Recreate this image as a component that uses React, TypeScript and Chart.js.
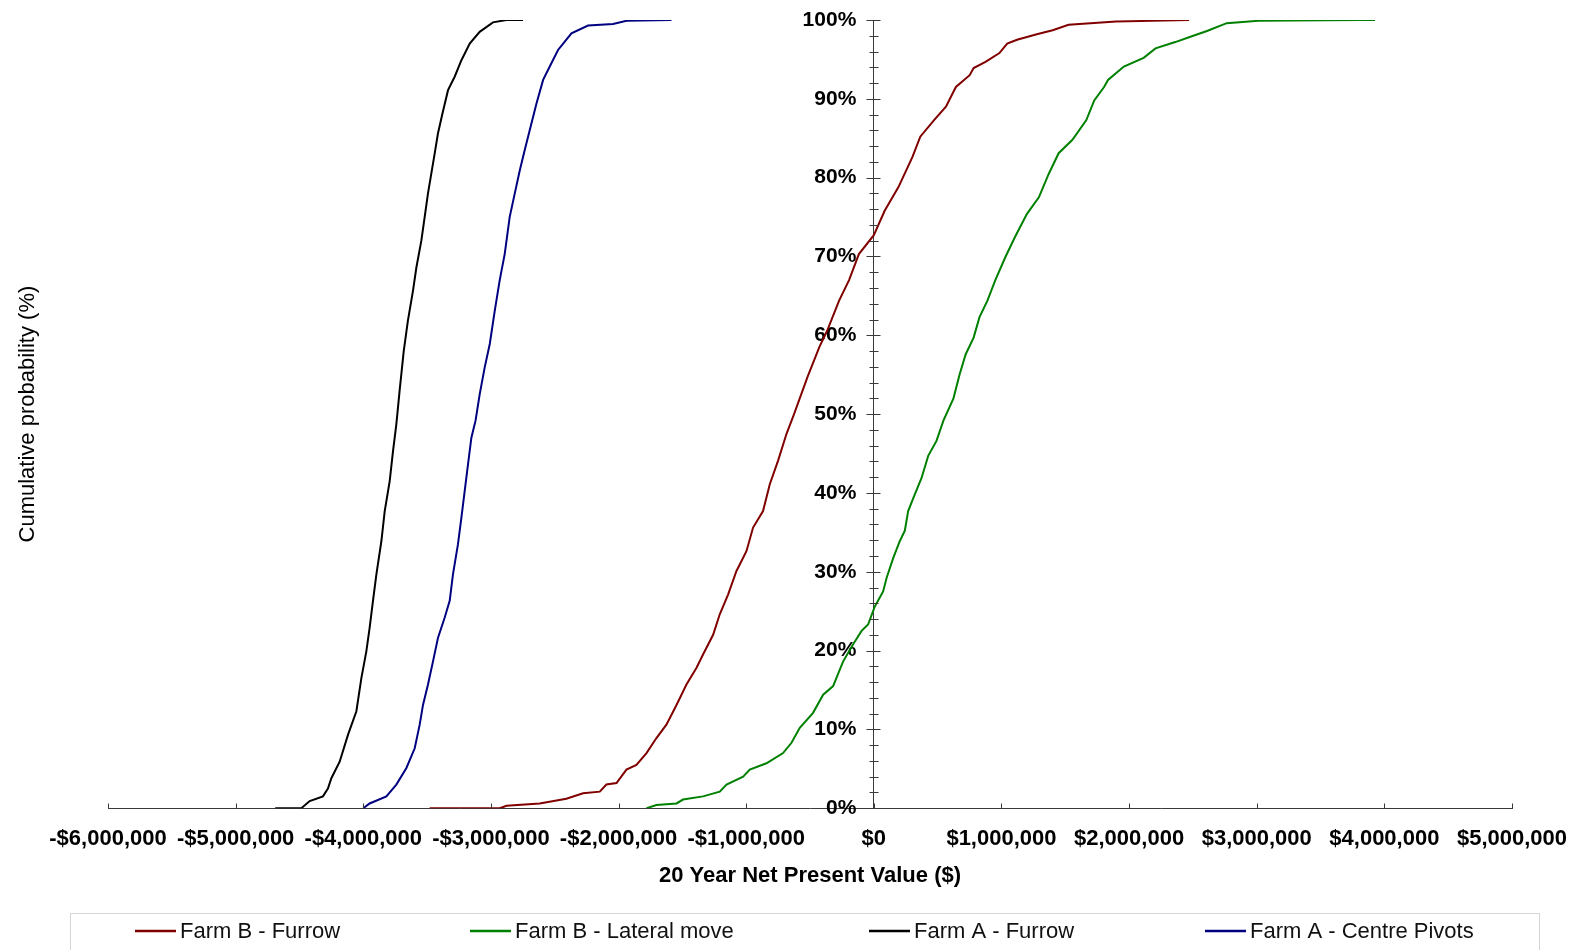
import React, { useEffect, useRef } from 'react';
import { Chart, registerables } from 'chart.js';

Chart.register(...registerables);

// ---- Data (20 year NPV in $, cumulative probability in %) ----
const farmBFurrowNpv = [-3480000, -2930000, -2878000, -2618000, -2409000, -2278000, -2147000, -2095000, -2016000, -1938000, -1860000, -1781000, -1703000, -1625000, -1546000, -1468000, -1390000, -1338000, -1259000, -1207000, -1142000, -1076000, -998000, -946000, -868000, -815000, -750000, -684000, -625000, -520000, -427000, -365000, -272000, -194000, -117000, 0, 85000, 193000, 302000, 364000, 472000, 565000, 643000, 751000, 782000, 875000, 984000, 1045000, 1122000, 1277000, 1401000, 1526000, 1898000, 2470000];
const farmBFurrowProb = [0, 0, 0.3, 0.6, 1.2, 1.9, 2.1, 3.0, 3.2, 4.9, 5.5, 7.0, 8.9, 10.6, 13.1, 15.7, 17.8, 19.5, 22.0, 24.6, 27.1, 30.1, 32.6, 35.6, 37.7, 41.1, 44.1, 47.5, 50.0, 54.7, 58.5, 60.6, 64.4, 67.0, 70.3, 72.7, 75.8, 78.8, 82.6, 85.2, 87.3, 89.0, 91.5, 93.0, 93.9, 94.7, 95.8, 97.0, 97.5, 98.2, 98.7, 99.4, 99.8, 100];

const farmBLateralNpv = [-1781000, -1703000, -1546000, -1495000, -1338000, -1207000, -1154000, -1024000, -972000, -841000, -711000, -645000, -580000, -476000, -397000, -319000, -241000, -162000, -96000, -45000, 8000, 73000, 100000, 151000, 204000, 243000, 269000, 321000, 374000, 426000, 491000, 546000, 624000, 673000, 720000, 782000, 828000, 890000, 952000, 1030000, 1107000, 1200000, 1293000, 1371000, 1448000, 1556000, 1665000, 1727000, 1804000, 1835000, 1959000, 2114000, 2207000, 2362000, 2486000, 2610000, 2765000, 3013000, 3819000, 3927000];
const farmBLateralProb = [0, 0.4, 0.6, 1.1, 1.5, 2.1, 3.0, 4.0, 4.9, 5.7, 7.0, 8.3, 10.2, 12.1, 14.4, 15.5, 18.6, 20.8, 22.5, 23.3, 25.6, 27.5, 29.2, 31.7, 33.9, 35.2, 37.7, 39.8, 41.9, 44.7, 46.6, 49.2, 52.0, 55.1, 57.6, 59.7, 62.3, 64.4, 67.0, 69.9, 72.5, 75.4, 77.5, 80.5, 83.1, 84.8, 87.3, 89.8, 91.5, 92.4, 94.1, 95.2, 96.4, 97.2, 97.9, 98.6, 99.6, 99.9, 100, 100];

const farmAFurrowNpv = [-4690000, -4485000, -4420000, -4316000, -4277000, -4250000, -4185000, -4120000, -4054000, -4015000, -3976000, -3950000, -3924000, -3897000, -3858000, -3832000, -3793000, -3767000, -3741000, -3715000, -3683000, -3650000, -3610000, -3584000, -3545000, -3519000, -3493000, -3467000, -3440000, -3415000, -3380000, -3336000, -3284000, -3231000, -3166000, -3088000, -2984000, -2879000, -2748000];
const farmAFurrowProb = [0, 0, 0.9, 1.5, 2.5, 3.8, 5.9, 9.3, 12.3, 16.5, 19.9, 22.9, 26.3, 29.7, 33.9, 37.7, 41.5, 45.3, 48.7, 53.0, 58.0, 61.9, 65.7, 68.6, 72.0, 75.0, 78.0, 80.5, 83.1, 85.6, 88.1, 91.1, 92.8, 94.9, 97.0, 98.5, 99.7, 100, 100];

const farmAPivotNpv = [-4000000, -3950000, -3819000, -3741000, -3662000, -3597000, -3558000, -3532000, -3493000, -3454000, -3415000, -3362000, -3323000, -3297000, -3258000, -3231000, -3205000, -3179000, -3153000, -3120000, -3088000, -3049000, -3009000, -2970000, -2931000, -2892000, -2853000, -2813000, -2774000, -2735000, -2696000, -2643000, -2591000, -2539000, -2474000, -2369000, -2239000, -2043000, -1938000, -1585000];
const farmAPivotProb = [0, 0.6, 1.5, 3.0, 5.1, 7.6, 10.6, 13.1, 15.7, 18.6, 21.6, 24.2, 26.3, 29.7, 33.5, 36.9, 40.3, 43.7, 47.0, 49.2, 52.5, 55.9, 58.9, 63.1, 67.0, 70.3, 75.0, 78.0, 80.9, 83.5, 86.0, 89.4, 92.4, 94.1, 96.2, 98.3, 99.3, 99.5, 99.9, 100];

const seriesLabels = ['Farm B - Furrow', 'Farm B - Lateral move', 'Farm A - Furrow', 'Farm A - Centre Pivots'];
const seriesColors = ['#800000', '#008000', '#000000', '#000080'];

const xMin = -6000000;
const xMax = 5000000;
const xStep = 1000000;
const yMin = 0;
const yMax = 100;
const yStep = 10;
const yMinorStep = 2;

const xTitle = '20 Year Net Present Value ($)';
const yTitle = 'Cumulative probability (%)';

// ---- styling / layout ----
const W = 1574;
const H = 950;
const FONT = "'Liberation Sans', Arial, sans-serif";
const AXIS_COLOR = '#3a3a3a';
const legendItemX = [135, 470, 869, 1205];

const pairs = (xs: number[], ys: number[]) => xs.map((x, i) => ({ x, y: ys[i] }));

const fmtMoney = (v: number) => {
  const s = '$' + Math.abs(v).toLocaleString('en-US');
  return v < 0 ? '-' + s : s;
};

const axisTicksPlugin = {
  id: 'axisTicks',
  afterDraw(chart: any) {
    const { ctx } = chart;
    const x = chart.scales.x;
    const y = chart.scales.y;
    const x0 = Math.round(x.getPixelForValue(0)) + 0.5;
    const yb = Math.round(y.getPixelForValue(0)) + 0.5;
    ctx.save();
    ctx.strokeStyle = AXIS_COLOR;
    ctx.lineWidth = 1;
    ctx.beginPath();
    const nMinor = Math.round((yMax - yMin) / yMinorStep);
    for (let i = 0; i <= nMinor; i++) {
      const v = yMin + i * yMinorStep;
      const py = Math.round(y.getPixelForValue(v)) + 0.5;
      const major = Math.abs(v % yStep) < 1e-9;
      ctx.moveTo(x0 - (major ? 8 : 5), py);
      ctx.lineTo(x0 + (major ? 6 : 4), py);
    }
    const nX = Math.round((xMax - xMin) / xStep);
    for (let i = 0; i <= nX; i++) {
      const v = xMin + i * xStep;
      const px = Math.round(x.getPixelForValue(v)) + 0.5;
      ctx.moveTo(px, yb);
      ctx.lineTo(px, yb - 5);
    }
    ctx.stroke();
    ctx.restore();
  },
};

const yTitlePlugin = {
  id: 'yTitleSide',
  afterDraw(chart: any) {
    const { ctx } = chart;
    const y = chart.scales.y;
    ctx.save();
    ctx.translate(28, (y.top + y.bottom) / 2);
    ctx.rotate(-Math.PI / 2);
    ctx.font = `22px ${FONT}`;
    ctx.fillStyle = '#000';
    ctx.textAlign = 'center';
    ctx.textBaseline = 'middle';
    ctx.fillText(yTitle, 0, 0);
    ctx.restore();
  },
};

const boxLegendPlugin = {
  id: 'boxLegend',
  afterDraw(chart: any) {
    const { ctx } = chart;
    ctx.save();
    ctx.strokeStyle = '#d6d6d6';
    ctx.lineWidth = 1;
    ctx.strokeRect(70.5, 913.5, 1469, 60);
    const ly = 931;
    chart.data.datasets.forEach((ds: any, i: number) => {
      const lx = legendItemX[i];
      ctx.strokeStyle = ds.borderColor;
      ctx.lineWidth = 2.5;
      ctx.beginPath();
      ctx.moveTo(lx, ly);
      ctx.lineTo(lx + 41, ly);
      ctx.stroke();
      ctx.fillStyle = '#111';
      ctx.font = `22px ${FONT}`;
      ctx.textAlign = 'left';
      ctx.textBaseline = 'middle';
      ctx.fillText(ds.label, lx + 45, ly + 1);
    });
    ctx.restore();
  },
};

const noScalePadding = (scale: any) => {
  scale.paddingLeft = 0;
  scale.paddingRight = 0;
  scale.paddingTop = 0;
  scale.paddingBottom = 0;
};

export default function App() {
  const canvasRef = useRef<HTMLCanvasElement | null>(null);

  useEffect(() => {
    const canvas = canvasRef.current;
    if (!canvas) return;
    const seriesData = [
      pairs(farmBFurrowNpv, farmBFurrowProb),
      pairs(farmBLateralNpv, farmBLateralProb),
      pairs(farmAFurrowNpv, farmAFurrowProb),
      pairs(farmAPivotNpv, farmAPivotProb),
    ];
    const chart = new Chart(canvas, {
      type: 'scatter',
      data: {
        datasets: seriesData.map((d, i) => ({
          label: seriesLabels[i],
          data: d,
          showLine: true,
          borderColor: seriesColors[i],
          backgroundColor: seriesColors[i],
          borderWidth: 2,
          pointRadius: 0,
          pointHoverRadius: 0,
          tension: 0,
        })),
      },
      options: {
        animation: false,
        responsive: false,
        maintainAspectRatio: false,
        devicePixelRatio: 1,
        layout: { autoPadding: false, padding: { left: 108, right: 62, top: 20, bottom: 61 } },
        plugins: {
          legend: { display: false },
          tooltip: { enabled: false },
        },
        scales: {
          x: {
            type: 'linear',
            position: 'bottom',
            min: xMin,
            max: xMax,
            afterFit: noScalePadding,
            grid: { display: false, drawTicks: false },
            border: { display: true, color: AXIS_COLOR, width: 1 },
            ticks: {
              stepSize: xStep,
              autoSkip: false,
              maxRotation: 0,
              padding: 18,
              color: '#000',
              font: { family: FONT, size: 22, weight: 'bold' },
              callback: (v: any) => fmtMoney(Number(v)),
            },
            title: {
              display: true,
              text: xTitle,
              color: '#000',
              font: { family: FONT, size: 22, weight: 'bold' },
              padding: { top: -8, bottom: 0 },
            },
          },
          y: {
            type: 'linear',
            position: { x: 0 } as any,
            min: yMin,
            max: yMax,
            afterFit: noScalePadding,
            grid: { display: false, drawTicks: false },
            border: { display: true, color: AXIS_COLOR, width: 1 },
            ticks: {
              stepSize: yStep,
              padding: 0,
              color: '#000',
              font: { family: FONT, size: 21, weight: 'bold' },
              callback: (v: any) => `${v}%   `,
            },
          },
        },
      } as any,
      plugins: [axisTicksPlugin, yTitlePlugin, boxLegendPlugin],
    });
    return () => chart.destroy();
  }, []);

  return (
    <div style={{ position: 'fixed', left: 0, top: 0, width: W, height: H, background: '#fff' }}>
      <canvas ref={canvasRef} width={W} height={H} style={{ width: W, height: H, display: 'block' }} />
    </div>
  );
}
